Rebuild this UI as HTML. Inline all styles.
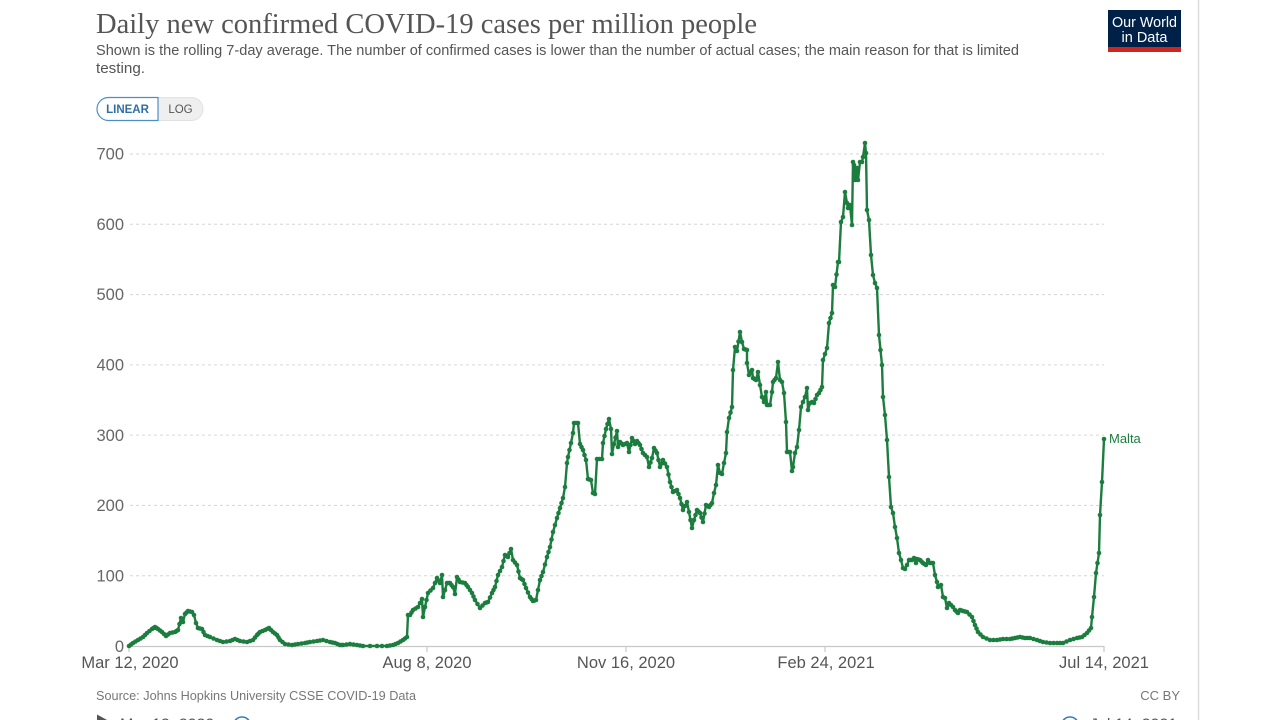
<!DOCTYPE html>
<html>
<head>
<meta charset="utf-8">
<style>
  html,body{margin:0;padding:0;background:#fff;}
  body{width:1280px;height:720px;overflow:hidden;}
  svg{display:block;}
  .sans{font-family:"Liberation Sans",Arial,sans-serif;}
  .serif{font-family:"Liberation Serif","Times New Roman",serif;}
</style>
</head>
<body>
<svg id="chart" width="1280" height="720" viewBox="0 0 1280 720" xmlns="http://www.w3.org/2000/svg">
  <rect x="0" y="0" width="1280" height="720" fill="#fff"/>
  <!-- right border -->
  <line x1="1198.5" y1="0" x2="1198.5" y2="720" stroke="#dcdcdc" stroke-width="1.5"/>

  <!-- title -->
  <text class="serif" x="96" y="33" font-size="29" fill="#555" textLength="661" lengthAdjust="spacingAndGlyphs">Daily new confirmed COVID-19 cases per million people</text>
  <text class="sans" x="96" y="55" font-size="14.5" fill="#555" textLength="923" lengthAdjust="spacingAndGlyphs">Shown is the rolling 7-day average. The number of confirmed cases is lower than the number of actual cases; the main reason for that is limited</text>
  <text class="sans" x="96" y="73" font-size="14.5" fill="#555" textLength="49" lengthAdjust="spacingAndGlyphs">testing.</text>

  <!-- logo -->
  <rect x="1108" y="10" width="73" height="37" fill="#002147"/>
  <rect x="1108" y="47" width="73" height="5" fill="#ce261e"/>
  <text class="sans" x="1144.5" y="27" font-size="14.5" fill="#fff" text-anchor="middle" textLength="65" lengthAdjust="spacingAndGlyphs">Our World</text>
  <text class="sans" x="1144.5" y="42" font-size="14.5" fill="#fff" text-anchor="middle">in Data</text>

  <!-- linear/log toggle -->
  <path d="M158 97.5 H191.5 a11.5 11.5 0 0 1 0 23 H158 Z" fill="#efefef" stroke="#e2e2e2" stroke-width="1"/>
  <path d="M108.5 97.5 H158 V120.5 H108.5 a11.5 11.5 0 0 1 0 -23 Z" fill="#fff" stroke="#4a90c8" stroke-width="1.2"/>
  <text class="sans" x="127.5" y="113" font-size="11.5" font-weight="bold" fill="#2f6fa8" text-anchor="middle">LINEAR</text>
  <text class="sans" x="180.5" y="113" font-size="11.5" fill="#555" text-anchor="middle">LOG</text>

  <!-- gridlines -->
  <g stroke="#d6d6d6" stroke-width="1" stroke-dasharray="3,3">
    <line x1="130" y1="575.7" x2="1104" y2="575.7"/>
    <line x1="130" y1="505.4" x2="1104" y2="505.4"/>
    <line x1="130" y1="435.1" x2="1104" y2="435.1"/>
    <line x1="130" y1="364.9" x2="1104" y2="364.9"/>
    <line x1="130" y1="294.6" x2="1104" y2="294.6"/>
    <line x1="130" y1="224.3" x2="1104" y2="224.3"/>
    <line x1="130" y1="154" x2="1104" y2="154"/>
  </g>
  <!-- y labels -->
  <g class="sans" font-size="16.5" fill="#666" text-anchor="end">
    <text x="124" y="652">0</text>
    <text x="124" y="581.5">100</text>
    <text x="124" y="511">200</text>
    <text x="124" y="441">300</text>
    <text x="124" y="370.5">400</text>
    <text x="124" y="300">500</text>
    <text x="124" y="230">600</text>
    <text x="124" y="159.5">700</text>
  </g>

  <!-- x axis -->
  <line x1="128" y1="646.5" x2="1104" y2="646.5" stroke="#c8c8c8" stroke-width="1.2"/>
  <g stroke="#c8c8c8" stroke-width="1.2">
    <line x1="129" y1="646" x2="129" y2="652"/>
    <line x1="427" y1="646" x2="427" y2="652"/>
    <line x1="626" y1="646" x2="626" y2="652"/>
    <line x1="825" y1="646" x2="825" y2="652"/>
    <line x1="1104" y1="646" x2="1104" y2="652"/>
  </g>
  <g class="sans" font-size="16.5" fill="#555" text-anchor="middle">
    <text x="130" y="668">Mar 12, 2020</text>
    <text x="427" y="668">Aug 8, 2020</text>
    <text x="626" y="668">Nov 16, 2020</text>
    <text x="826" y="668">Feb 24, 2021</text>
    <text x="1104" y="668">Jul 14, 2021</text>
  </g>

  <!-- data series -->
  <g id="series"></g>
  <text class="sans" x="1109" y="443" font-size="13" fill="#1b7d3e">Malta</text>

  <!-- footer -->
  <text class="sans" x="96" y="700" font-size="13" fill="#777" textLength="320" lengthAdjust="spacingAndGlyphs">Source: Johns Hopkins University CSSE COVID-19 Data</text>
  <text class="sans" x="1180" y="700" font-size="13" fill="#777" text-anchor="end">CC BY</text>

  <!-- partial timeline at bottom -->
  <path d="M97 714.5 L108 720.5 L97 726.5 Z" fill="#555"/>
  <text class="sans" x="120" y="729.5" font-size="16" fill="#555">Mar 12, 2020</text>
  <circle cx="242" cy="725.5" r="8.5" fill="#fff" stroke="#3a7bc0" stroke-width="1.6"/>
  <circle cx="1070" cy="725.5" r="8.5" fill="#fff" stroke="#3a7bc0" stroke-width="1.6"/>
  <text class="sans" x="1090" y="729.5" font-size="16" fill="#555">Jul 14, 2021</text>
</svg>
<script>
(function(){
var s="129,646 133,643 138,640 143,637 147,633 152,629 155,627 158,629 162,632 166,636 170,633 175,632 178,630 181,618 183,622 185,614 188,611 192,612 194,615 196,623 198,628 202,629 205,635 210,637 217,640 223,642 230,641 235,639 240,641 247,642 253,640 257,635 260,632 265,630 269,628 273,632 277,635 280,640 285,644 292,645 298,644 305,643 310,642 317,641 323,640 330,642 335,643 340,645 343,645 350,644 357,645 363,646 377,646 387,646 393,645 398,643 403,640 407,637 408,615 410,615 413,610 418,607 422,599 423,617 425,607 "+
"428,593 433,588 437,578 440,583 442,575 443,597 447,583 450,583 453,587 455,594 457,577 460,582 465,583 468,587 472,593 475,600 480,608 485,603 488,602 492,593 495,587 498,575 502,567 505,555 508,557 511,549 513,560 517,565 520,578 523,580 526,588 530,597 533,601 536,600 538,590 540,580 543,572 547,557 550,547 553,532 557,518 560,508 563,498 565,487 567,463 568,457 571,443 573,433 574,423 578,423 580,444 583,450 586,460 588,479 591,480 593,493 595,494 597,459 602,459 603,443 606,429 609,419 611,429 612,454 614,444 617,431 618,447 620,442 623,445 627,443 629,452 632,438 635,444 637,441 640,445 643,453 647,457 649,467 652,458 654,448 657,453 660,467 663,460 667,467 670,482 673,492 677,490 680,498 "+
"683,510 687,502 689,512 692,528 694,520 697,510 700,513 703,522 706,505 709,507 712,503 714,493 716,485 718,465 720,473 722,474 724,463 726,453 727,432 729,418 732,407 733,370 735,347 737,351 740,332 742,342 744,349 747,350 747,363 749,375 752,370 753,378 756,380 758,372 760,385 762,397 764,402 766,392 767,405 770,405 772,392 773,382 776,378 778,362 780,380 782,382 784,393 786,422 787,452 790,452 792,471 793,467 795,453 797,447 799,430 801,407 803,402 805,397 807,388 808,410 810,403 812,402 814,403 817,395 819,393 822,387 823,360 825,354 827,348 829,323 "+
"832,313 833,285 835,287 838,262 839,262 841,222 843,217 845,192 847,203 848,208 850,205 852,225 853,162 854,165 855,180 857,168 858,180 860,162 862,162 863,157 865,143 866,153 867,210 869,220 871,255 873,275 875,283 877,288 879,335 "+
"882,365 883,397 885,415 887,440 889,477 891,507 893,513 895,527 897,538 899,553 901,560 903,568 905,569 907,565 909,560 912,560 914,558 916,563 917,559 920,560 923,563 926,565 928,560 930,563 933,563 935,575 937,582 938,587 941,585 943,597 945,598 947,608 949,603 953,607 955,610 958,613 "+
"960,610 963,611 967,612 972,617 975,625 978,632 983,637 990,640 997,640 1003,639 1010,639 1015,638 1020,637 1025,638 1030,638 1037,640 1043,642 1050,643 1057,643 1063,643 1070,640 1077,638 1082,637 1087,633 1091,628 1092,617 1094,597 1096,573 1099,553 1100,515 1102,482 1104,439";
var pts=s.trim().split(/\s+/).map(function(p){var a=p.split(",");return [+a[0],+a[1]];});
var NS="http://www.w3.org/2000/svg";
var g=document.getElementById("series");
var col="#1b7d3e";
var pl=document.createElementNS(NS,"polyline");
pl.setAttribute("points",pts.map(function(p){return p.join(",");}).join(" "));
pl.setAttribute("fill","none");
pl.setAttribute("stroke",col);
pl.setAttribute("stroke-width","2.4");
pl.setAttribute("stroke-linejoin","round");
g.appendChild(pl);
function dot(x,y){var c=document.createElementNS(NS,"circle");c.setAttribute("cx",x);c.setAttribute("cy",y);c.setAttribute("r","2.3");c.setAttribute("fill",col);g.appendChild(c);}
for(var i=0;i<pts.length;i++){
  dot(pts[i][0],pts[i][1]);
  if(i<pts.length-1){
    var dx=pts[i+1][0]-pts[i][0];
    if(dx>=3){ dot((pts[i][0]+pts[i+1][0])/2,(pts[i][1]+pts[i+1][1])/2); }
  }
}
})();
</script>
</body>
</html>
